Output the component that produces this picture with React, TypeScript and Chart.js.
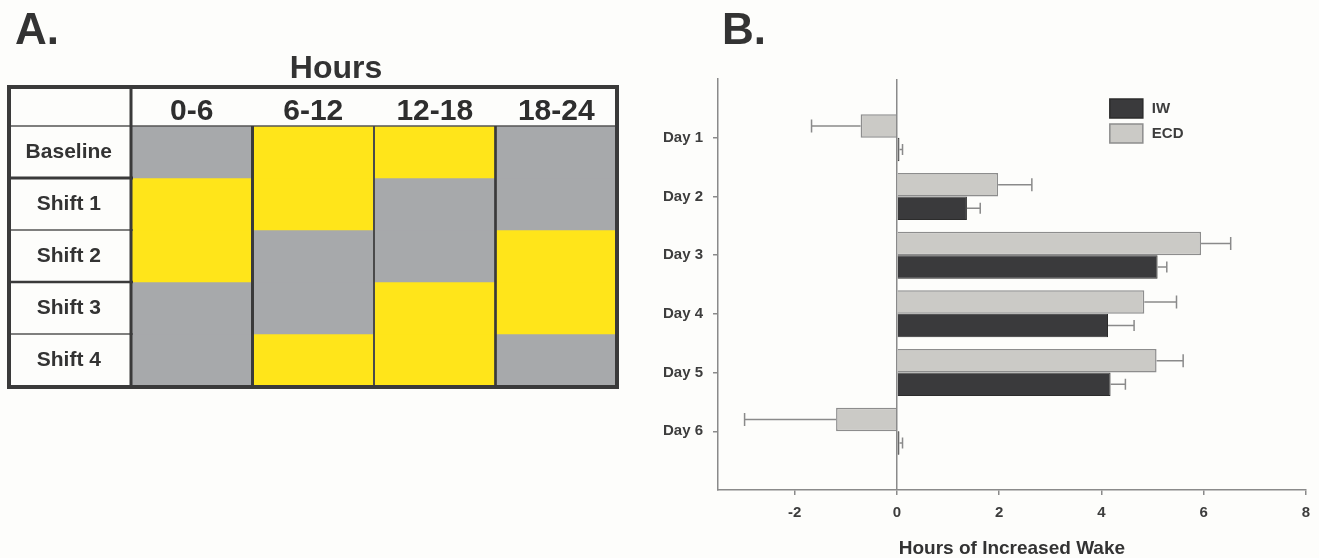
import React, { useEffect, useRef } from 'react';
import { Chart, registerables } from 'chart.js';

Chart.register(...registerables);

// ---------- Panel A data ----------
const HOUR_BLOCKS = ['0-6', '6-12', '12-18', '18-24'];
const SCHEDULE_ROWS = ['Baseline', 'Shift 1', 'Shift 2', 'Shift 3', 'Shift 4'];
// L = light (yellow), D = dark (gray)
const BASELINE = ['D', 'L', 'L', 'D'];
const SHIFT_1 = ['L', 'L', 'D', 'D'];
const SHIFT_2 = ['L', 'D', 'D', 'L'];
const SHIFT_3 = ['D', 'D', 'L', 'L'];
const SHIFT_4 = ['D', 'L', 'L', 'D'];
const SCHEDULE = [BASELINE, SHIFT_1, SHIFT_2, SHIFT_3, SHIFT_4];

// ---------- Panel B data ----------
const DAYS = ['Day 1', 'Day 2', 'Day 3', 'Day 4', 'Day 5', 'Day 6'];
const IW_MEAN = [0.05, 1.37, 5.1, 4.13, 4.18, 0.05];
const IW_SEM = [0.06, 0.26, 0.18, 0.51, 0.29, 0.06];
const ECD_MEAN = [-0.71, 1.98, 5.95, 4.84, 5.08, -1.19];
const ECD_SEM = [0.96, 0.66, 0.58, 0.63, 0.52, 1.79];
const X_TICKS = [-2, 0, 2, 4, 6, 8];
const X_MIN = -3.5;
const X_MAX = 8;

const FONT = "'Liberation Sans', Arial, Helvetica, sans-serif";
const YELLOW = '#FFE51A';
const GRAY = '#A7A9AB';
const DARK = '#3a3a3a';
const AXIS = '#8a8a8a';
const TXT = '#3d3d3d';

const tablePlugin = {
  id: 'tableBorders',
  afterDraw(chart: any) {
    const { ctx, chartArea } = chart;
    const xs = chart.scales.x;
    const ys = chart.scales.y;
    const left = ys.left + 2;
    const top = xs.top + 1;
    const right = chartArea.right;
    const bottom = chartArea.bottom + 1;
    ctx.save();
    ctx.lineCap = 'butt';
    // header separator
    ctx.strokeStyle = '#555';
    ctx.lineWidth = 1.7;
    ctx.beginPath();
    ctx.moveTo(left, chartArea.top);
    ctx.lineTo(right, chartArea.top);
    ctx.stroke();
    // row separators in label column
    const rowW = [3, 1.5, 2.7, 1.5];
    const rowC = [DARK, '#555', DARK, '#555'];
    for (let k = 1; k < SCHEDULE_ROWS.length; k++) {
      const y = ys.getPixelForValue(k);
      ctx.strokeStyle = rowC[k - 1];
      ctx.lineWidth = rowW[k - 1];
      ctx.beginPath();
      ctx.moveTo(left, y);
      ctx.lineTo(chartArea.left + 2, y);
      ctx.stroke();
    }
    // column dividers in body
    const colW = [3, 2, 2.7];
    const colC = [DARK, '#4a4a4a', DARK];
    for (let k = 1; k < HOUR_BLOCKS.length; k++) {
      const x = (xs.getPixelForValue(k - 1) + xs.getPixelForValue(k)) / 2;
      ctx.strokeStyle = colC[k - 1];
      ctx.lineWidth = colW[k - 1];
      ctx.beginPath();
      ctx.moveTo(x, chartArea.top);
      ctx.lineTo(x, bottom);
      ctx.stroke();
    }
    // label column line
    ctx.strokeStyle = DARK;
    ctx.lineWidth = 3;
    ctx.beginPath();
    ctx.moveTo(chartArea.left, top);
    ctx.lineTo(chartArea.left, bottom);
    ctx.stroke();
    // outer border
    ctx.lineWidth = 4;
    ctx.strokeRect(left, top, right - left, bottom - top);
    // texts
    ctx.fillStyle = '#333';
    ctx.textBaseline = 'alphabetic';
    ctx.textAlign = 'left';
    ctx.font = `bold 44px ${FONT}`;
    ctx.fillText('A.', 15, 44);
    ctx.textAlign = 'center';
    ctx.font = `bold 32px ${FONT}`;
    ctx.fillText('Hours', 336, 78);
    ctx.restore();
  },
};

const errorBarPlugin = {
  id: 'errorBars',
  afterDatasetsDraw(chart: any) {
    const { ctx } = chart;
    const xs = chart.scales.x;
    ctx.save();
    ctx.strokeStyle = '#8a8a8a';
    ctx.lineWidth = 1.5;
    chart.data.datasets.forEach((ds: any, di: number) => {
      const meta = chart.getDatasetMeta(di);
      meta.data.forEach((bar: any, i: number) => {
        const v = ds.data[i];
        const e = ds.errors[i];
        if (v == null || e == null) return;
        const sign = v < 0 ? -1 : 1;
        const end = xs.getPixelForValue(v + sign * e);
        const cap = di === 0 ? 6.5 : 5.5;
        ctx.beginPath();
        ctx.moveTo(bar.x, bar.y);
        ctx.lineTo(end, bar.y);
        ctx.moveTo(end, bar.y - cap);
        ctx.lineTo(end, bar.y + cap);
        ctx.stroke();
      });
    });
    ctx.restore();
  },
};

const legendPlugin = {
  id: 'boxLegend',
  afterDraw(chart: any) {
    const { ctx, chartArea } = chart;
    const items = [...chart.data.datasets].reverse();
    ctx.save();
    items.forEach((ds: any, k: number) => {
      const bx = chartArea.right - 196;
      const by = chartArea.top + 20 + k * 25;
      ctx.fillStyle = ds.backgroundColor;
      ctx.fillRect(bx, by, 33, 19);
      ctx.strokeStyle = ds.borderColor;
      ctx.lineWidth = 1.5;
      ctx.strokeRect(bx, by, 33, 19);
      ctx.fillStyle = TXT;
      ctx.font = `bold 15px ${FONT}`;
      ctx.textAlign = 'left';
      ctx.textBaseline = 'middle';
      ctx.fillText(ds.label, bx + 42, by + 10);
    });
    ctx.fillStyle = '#333';
    ctx.textBaseline = 'alphabetic';
    ctx.font = `bold 44px ${FONT}`;
    ctx.fillText('B.', 82, 44);
    ctx.restore();
  },
};

export default function App() {
  const refA = useRef<HTMLCanvasElement>(null);
  const refB = useRef<HTMLCanvasElement>(null);

  useEffect(() => {
    const chartA = new Chart(refA.current as HTMLCanvasElement, {
      type: 'bar',
      data: {
        labels: HOUR_BLOCKS,
        datasets: SCHEDULE.map((row, r) => ({
          label: SCHEDULE_ROWS[r],
          data: row.map(() => [r, r + 1]),
          backgroundColor: row.map((c) => (c === 'L' ? YELLOW : GRAY)),
          borderWidth: 0,
          barPercentage: 1,
          categoryPercentage: 1,
          grouped: false,
        })) as any,
      },
      options: {
        responsive: false,
        animation: false,
        events: [],
        layout: { padding: { left: 7, right: 23, top: 86, bottom: 14 } },
        plugins: { legend: { display: false }, tooltip: { enabled: false } },
        scales: {
          x: {
            type: 'category',
            position: 'top',
            grid: { display: false, drawTicks: false, tickLength: 0 },
            border: { display: false },
            ticks: {
              font: { family: FONT, size: 30, weight: 'bold', lineHeight: 1 },
              color: '#2e2e2e',
              padding: -1,
              maxRotation: 0,
              autoSkip: false,
            },
            afterFit: (s: any) => {
              s.height = 40;
              s.paddingLeft = 0;
              s.paddingRight = 0;
            },
          },
          y: {
            type: 'linear',
            min: 0,
            max: SCHEDULE_ROWS.length,
            reverse: true,
            position: 'left',
            grid: { display: false, drawTicks: false, tickLength: 0 },
            border: { display: false },
            afterBuildTicks: (s: any) => {
              s.ticks = SCHEDULE_ROWS.map((_, i) => ({ value: i + 0.5 }));
            },
            ticks: {
              callback: (v: any) => SCHEDULE_ROWS[Math.floor(Number(v))],
              crossAlign: 'center',
              padding: 19,
              font: { family: FONT, size: 21, weight: 'bold' },
              color: '#333',
              autoSkip: false,
            },
            afterFit: (s: any) => {
              s.width = 124;
              s.paddingTop = 0;
              s.paddingBottom = 0;
            },
          },
        },
      } as any,
      plugins: [tablePlugin],
    });

    const chartB = new Chart(refB.current as HTMLCanvasElement, {
      type: 'bar',
      data: {
        labels: ['', ...DAYS, ''],
        datasets: [
          {
            label: 'ECD',
            data: [null, ...ECD_MEAN, null],
            errors: [null, ...ECD_SEM, null],
            backgroundColor: '#cbcac6',
            borderColor: '#8d8d8d',
            borderWidth: 1.5,
          },
          {
            label: 'IW',
            data: [null, ...IW_MEAN, null],
            errors: [null, ...IW_SEM, null],
            backgroundColor: '#3a3a3c',
            borderColor: '#2c2c2c',
            borderWidth: 1,
          },
        ] as any,
      },
      options: {
        indexAxis: 'y',
        responsive: false,
        animation: false,
        events: [],
        categoryPercentage: 0.8,
        barPercentage: 1,
        layout: { padding: { left: 0, right: 12, top: 79, bottom: 0 } },
        plugins: { legend: { display: false }, tooltip: { enabled: false } },
        scales: {
          x: {
            type: 'linear',
            min: X_MIN,
            max: X_MAX,
            afterBuildTicks: (s: any) => {
              s.ticks = X_TICKS.map((v) => ({ value: v }));
            },
            grid: {
              color: (c: any) => (c.tick && c.tick.value === 0 ? AXIS : 'rgba(0,0,0,0)'),
              tickColor: AXIS,
              tickLength: 5,
              lineWidth: 1.5,
            },
            border: { display: true, color: AXIS, width: 1.5 },
            ticks: {
              padding: 9,
              font: { family: FONT, size: 15, weight: 'bold' },
              color: TXT,
            },
            title: {
              display: true,
              text: 'Hours of Increased Wake',
              font: { family: FONT, size: 19, weight: 'bold', lineHeight: 1 },
              color: '#333',
              padding: { top: 0, bottom: 0 },
            },
            afterFit: (s: any) => {
              s.height = 68;
            },
          },
          y: {
            type: 'category',
            offset: false,
            grid: {
              offset: false,
              drawOnChartArea: false,
              tickLength: 5,
              lineWidth: 1.5,
              tickColor: (c: any) =>
                c.index === 0 || c.index === DAYS.length + 1 ? 'rgba(0,0,0,0)' : AXIS,
            },
            border: { display: true, color: AXIS, width: 1.5 },
            ticks: {
              padding: 10,
              autoSkip: false,
              font: { family: FONT, size: 15, weight: 'bold' },
              color: TXT,
            },
            afterFit: (s: any) => {
              s.width = 78;
            },
          },
        },
      } as any,
      plugins: [errorBarPlugin, legendPlugin],
    });

    return () => {
      chartA.destroy();
      chartB.destroy();
    };
  }, []);

  return (
    <div
      style={{
        position: 'fixed',
        left: 0,
        top: 0,
        width: 1319,
        height: 558,
        background: '#fdfdfb',
        overflow: 'hidden',
      }}
    >
      <canvas
        ref={refA}
        width={640}
        height={400}
        style={{ position: 'absolute', left: 0, top: 0, width: 640, height: 400 }}
      />
      <canvas
        ref={refB}
        width={679}
        height={558}
        style={{ position: 'absolute', left: 640, top: 0, width: 679, height: 558 }}
      />
    </div>
  );
}
